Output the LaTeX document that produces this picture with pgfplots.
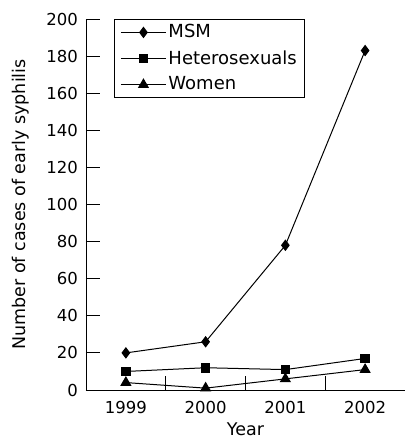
\documentclass[border=0pt]{standalone}
\usepackage{fontspec}
\setmainfont{DejaVu Sans}
\usepackage{pgfplots}
\pgfplotsset{compat=1.18}
\newcommand\tickfont{\fontsize{16.5}{19}\selectfont}
\newcommand\labfont{\fontsize{17.5}{20}\selectfont}
\newcommand\legfont{\fontsize{18}{21}\selectfont}
\begin{document}
\legfont
\begin{tikzpicture}
\begin{axis}[
    scale only axis,
    width=319pt, height=371pt,
    axis lines=left,
    axis line style={-, line width=0.8pt},
    xmin=-0.5, xmax=3.5,
    ymin=0, ymax=200,
    xtick={0,1,2,3},
    xticklabels={1999,2000,2001,2002},
    minor xtick={0.5,1.5,2.5},
    ytick={0,20,...,200},
    tick align=inside,
    major tick length=14pt,
    minor tick length=14pt,
    major x tick style={draw=none},
    tick style={line width=0.8pt, black},
    tick label style={font=\tickfont},
    /pgf/number format/assume math mode=true,
    xticklabel style={yshift=-5pt},
    yticklabel style={xshift=-2pt},
    xlabel={Year},
    ylabel={Number of cases of early syphilis},
    label style={font=\labfont},
    xlabel style={yshift=3pt},
    ylabel style={yshift=5pt},
    legend style={at={(0.088,1)}, anchor=north west, draw=black,
        line width=0.8pt, font=\legfont,
        row sep=6pt, inner xsep=6pt, inner ysep=3pt},
    legend cell align=left,
    legend image code/.code={
        \draw[mark repeat=2, mark phase=2] plot coordinates {(0pt,0pt) (22.5pt,0pt) (45pt,0pt)};
    },
    every axis plot/.append style={black, line width=1pt},
]
\addplot[mark=diamond*, mark size=5pt] coordinates {(0,20) (1,26) (2,78) (3,183)};
\addplot[mark=square*, mark size=4.3pt] coordinates {(0,10) (1,12) (2,11) (3,17)};
\addplot[mark=triangle*, mark size=5.5pt] coordinates {(0,4) (1,1) (2,6) (3,11)};
\legend{MSM, Heterosexuals, Women}
\end{axis}
\path (current axis.south west) ++(-86pt,-52pt) coordinate (bl);
\path (current axis.north east) ++(0pt,19pt) coordinate (tr);
\pgfresetboundingbox
\path (bl) rectangle (tr);
\end{tikzpicture}
\end{document}
